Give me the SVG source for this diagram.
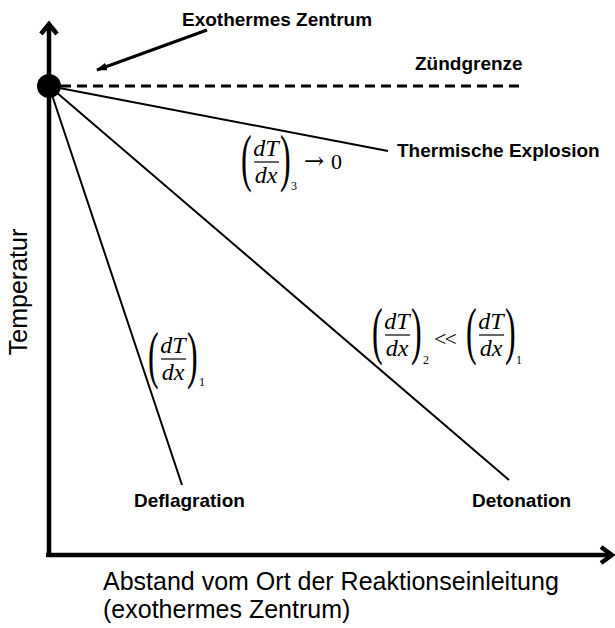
<svg xmlns="http://www.w3.org/2000/svg" width="615" height="628" viewBox="0 0 615 628">
<style>
.lbl{font-family:"Liberation Sans",Arial,sans-serif;font-weight:bold;font-size:19px;fill:#000}
.ax{font-family:"Liberation Sans",Arial,sans-serif;font-size:25px;fill:#000}
.it{font-family:"Liberation Serif","Times New Roman",serif;font-style:italic;font-size:24px;fill:#000}
.rm{font-family:"Liberation Serif","Times New Roman",serif;font-size:22px;fill:#000}
.op{font-family:"DejaVu Serif","Liberation Serif",serif;font-size:24px;fill:#000}
.sub{font-family:"Liberation Serif","Times New Roman",serif;font-size:12px;fill:#000}
.par{font-family:"Liberation Serif","Times New Roman",serif;font-size:64px;fill:#000}
.bar{stroke:#000;stroke-width:1.2}
.ray{stroke:#000;stroke-width:2;fill:none}
.axis{stroke:#000;stroke-width:4.5;fill:none;stroke-linecap:butt;stroke-linejoin:miter}
</style>
<defs>
<marker id="ah" markerWidth="11" markerHeight="8" refX="10" refY="4" orient="auto" markerUnits="userSpaceOnUse">
<path d="M0,0 L11,4 L0,8 Z" fill="#000"/>
</marker>
<g id="frac">
<text class="par" transform="translate(0,44) scale(0.5,1)">(</text>
<text class="it" x="25" y="21" text-anchor="middle">dT</text>
<line class="bar" x1="13" y1="27" x2="38" y2="27"/>
<text class="it" x="25" y="48" text-anchor="middle">dx</text>
<text class="par" transform="translate(39,44) scale(0.5,1)">)</text>
</g>
</defs>

<g id="axes">
<line class="axis" x1="49" y1="557" x2="49" y2="25"/>
<polyline class="axis" points="41,34 49,24 57,34"/>
<line class="axis" x1="46" y1="555" x2="612" y2="555"/>
<polyline class="axis" points="601,547 612,555 601,563"/>
</g>

<g id="connectors">
<line x1="61" y1="86" x2="524" y2="86" stroke="#000" stroke-width="3" stroke-dasharray="10 6"/>
<line class="ray" x1="49" y1="86" x2="388" y2="151"/>
<line class="ray" x1="49" y1="86" x2="509" y2="480"/>
<line class="ray" x1="49" y1="86" x2="182" y2="485"/>
<line x1="207" y1="30" x2="97" y2="70" stroke="#000" stroke-width="3" marker-end="url(#ah)"/>
</g>

<g id="zentrum">
<circle cx="49" cy="86" r="12" fill="#000"/>
</g>

<g id="label-zentrum"><text class="lbl" x="182" y="26">Exothermes Zentrum</text></g>
<g id="label-zuend"><text class="lbl" x="415" y="70">Zündgrenze</text></g>
<g id="label-thermisch"><text class="lbl" x="397" y="157">Thermische Explosion</text></g>
<g id="label-defl"><text class="lbl" x="134" y="507">Deflagration</text></g>
<g id="label-deto"><text class="lbl" x="472" y="507">Detonation</text></g>

<g id="formula3">
<use href="#frac" transform="translate(241,135)"/>
<text class="sub" x="291" y="190">3</text>
<text class="op" x="304" y="169">→</text>
<text class="rm" x="331" y="169">0</text>
</g>

<g id="formula1">
<use href="#frac" transform="translate(148,332)"/>
<text class="sub" x="199" y="386">1</text>
</g>

<g id="formula2">
<use href="#frac" transform="translate(372,308)"/>
<text class="sub" x="423" y="364">2</text>
<text class="rm" x="434" y="346" font-size="27" letter-spacing="-2">&lt;&lt;</text>
<use href="#frac" transform="translate(466,308)"/>
<text class="sub" x="516" y="364">1</text>
</g>

<g id="axis-labels">
<text class="ax" transform="translate(27,292) rotate(-90)" text-anchor="middle" font-size="27">Temperatur</text>
<text class="ax" x="103" y="590">Abstand vom Ort der Reaktionseinleitung</text>
<text class="ax" x="103" y="618">(exothermes Zentrum)</text>
</g>
</svg>
